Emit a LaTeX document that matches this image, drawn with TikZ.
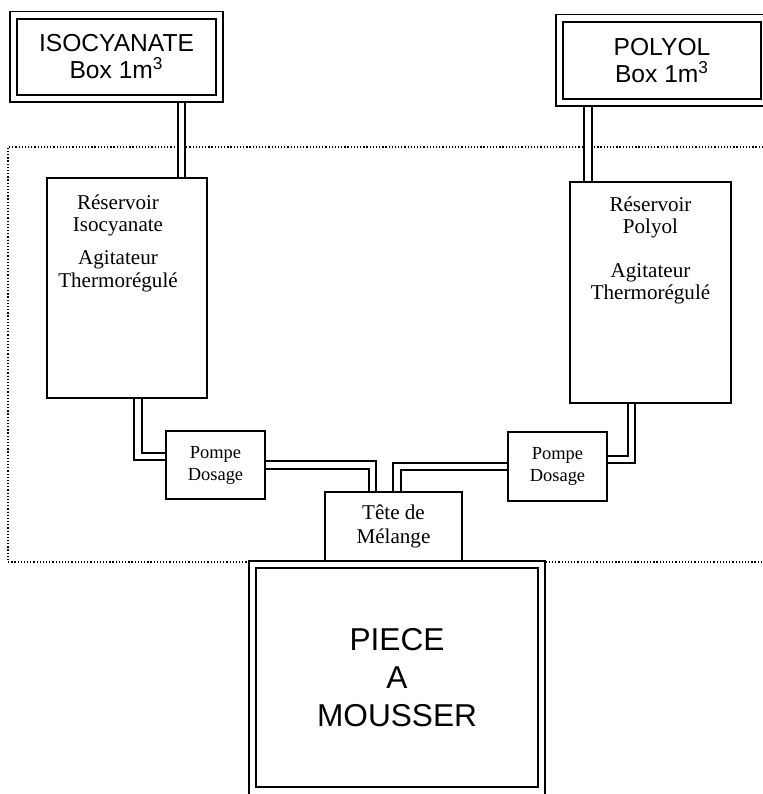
\documentclass[tikz,border=0pt]{standalone}
\usepackage{fontspec}
\setmainfont{Liberation Serif}
\setsansfont{Liberation Sans}
\usetikzlibrary{calc,positioning,backgrounds}

\begin{document}
\begin{tikzpicture}[x=0.02cm,y=-0.02cm,
  bigbox/.style={draw,double,double distance=0.11cm,line width=0.035cm,inner sep=0,align=center},
  tank/.style={draw,line width=0.04cm,inner sep=0,align=center},
  pipe/.style={double,double distance=0.11cm,line width=0.04cm},
  lbl/.style={inner sep=0,align=center,font=\fontsize{12}{12.8}\selectfont}]
  \useasboundingbox (0,0) rectangle (763,794);
  \clip (0,0) rectangle (763,794);
  % cuves 1 m3 et piece
  \node[bigbox,minimum width=4.12cm,minimum height=1.67cm,font=\sffamily\fontsize{14}{15.5}\selectfont] (isobox) at (116.5,56.75) {ISOCYANATE\\Box 1m\textsuperscript{3}};
  \node[bigbox,minimum width=4.1cm,minimum height=1.69cm,font=\sffamily\fontsize{14}{15.5}\selectfont] (polbox) at (662,60.25) {POLYOL\\Box 1m\textsuperscript{3}};
  \node[bigbox,fill=white,minimum width=5.78cm,minimum height=4.53cm,font=\sffamily\fontsize{18}{21.6}\selectfont] (piece) at (397,677.75) {PIECE\\A\\MOUSSER};
  % reservoirs
  \node[tank,minimum width=3.2cm,minimum height=4.4cm] (resiso) at (127,288) {};
  \node[lbl,below=0.34cm of resiso.north,xshift=-0.18cm] (txtiso) {Réservoir\\Isocyanate\\[6pt]Agitateur\\Thermorégulé};
  \node[tank,minimum width=3.22cm,minimum height=4.42cm] (respol) at (650.5,292.5) {};
  \node[lbl,below=0.3cm of respol.north] (txtpol) {Réservoir\\Polyol\\[12pt]Agitateur\\Thermorégulé};
  % pompes et tete
  \node[tank,minimum width=1.98cm,minimum height=1.36cm,font=\fontsize{10.5}{12.5}\selectfont] (pompeiso) at (215.5,465) {Pompe\\Dosage};
  \node[tank,minimum width=1.98cm,minimum height=1.38cm,font=\fontsize{10.5}{12.5}\selectfont] (pompepol) at (557.5,466.5) {Pompe\\Dosage};
  \node[tank,minimum width=2.74cm,minimum height=1.38cm,font=\fontsize{12}{14}\selectfont] (tete) at (393.5,526.5) {Tête de\\Mélange};

  \begin{scope}[on background layer]
    % cadre pointille
    \draw[dash pattern=on 0.7pt off 1.1pt,line width=0.7pt] (763,147) -- (8,147) -- (8,562) -- (763,562);
    % tuyaux
    \coordinate (a1) at ($(resiso.north east)+(-26.5,0)$);
    \draw[pipe] (a1) -- (a1 |- isobox.south);
    \coordinate (a2) at ($(respol.north west)+(19,0)$);
    \draw[pipe] (a2) -- (a2 |- polbox.south);
    \coordinate (b1) at ($(resiso.south west)+(92,0)$);
    \draw[pipe] (b1) |- ($(pompeiso.west)+(0,-8.5)$);
    \coordinate (b2) at ($(respol.south west)+(62.5,0)$);
    \draw[pipe] (b2) |- ($(pompepol.east)+(0,-7)$);
    \coordinate (c1) at ($(tete.north west)+(48.5,0)$);
    \draw[pipe] (pompeiso.east) -| (c1);
    \coordinate (c2) at ($(tete.north west)+(73,0)$);
    \draw[pipe] (c2) |- (pompepol.west);
  \end{scope}
\end{tikzpicture}
\end{document}
